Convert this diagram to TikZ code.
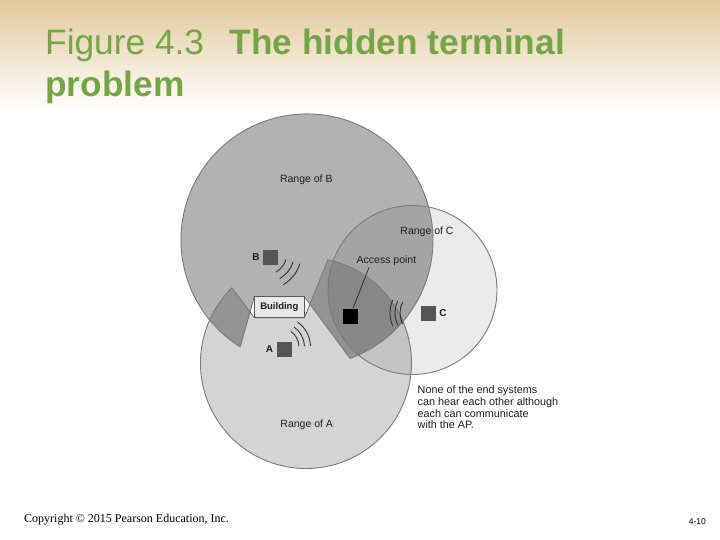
\documentclass[tikz,border=0pt]{standalone}
\usepackage{fontspec}
\setmainfont{Liberation Serif}
\newfontfamily\arialf{Liberation Sans}
\definecolor{headtan}{RGB}{226,201,155}
\definecolor{titlegreen}{RGB}{118,165,72}
\definecolor{rimgray}{RGB}{122,122,122}
\definecolor{devgray}{RGB}{85,85,85}
\definecolor{txtdark}{RGB}{30,30,30}
\definecolor{bldfill}{RGB}{232,232,232}
\begin{document}
\begin{tikzpicture}[x=1pt,y=-1pt,
  rim/.style={draw=rimgray, line width=0.9pt},
  devsq/.style={minimum size=15pt, inner sep=0pt, fill=devgray},
  devlbl/.style={font=\arialf\bfseries\fontsize{10}{12}\selectfont, text=txtdark, inner sep=0pt},
  rlbl/.style={font=\arialf\fontsize{10.5}{12}\selectfont, text=txtdark, inner sep=0pt},
  wave/.style={draw=black!80, line width=0.9pt},
]
\useasboundingbox (0,0) rectangle (720,540);
\fill[white] (0,0) rectangle (720,540);
\shade[top color=headtan, bottom color=white] (0,0) rectangle (720,110);

% title (base anchor = baseline of last line)
\node[anchor=base west, align=left, inner sep=0pt, text=titlegreen,
      font=\arialf\fontsize{35.3}{42}\selectfont] (title) at (45,97)
  {Figure 4.3\hspace{0.72em}\textbf{The hidden terminal}\\\textbf{problem}};

% ranges (fills)
\path[fill=black, fill opacity=0.08] (412.5,290) circle[radius=84.5];
\path[fill=black, fill opacity=0.17]
  (327.9,259.8) arc[start angle=-78, end angle=225.4, radius=105.5]
  -- (254.3,317.7) -- (304.5,317.7) -- cycle;
\path[fill=black, fill opacity=0.30]
  (240.2,346.8) arc[start angle=122, end angle=430, radius=126]
  -- (304.3,296.7) -- (254.3,296.7) -- cycle;

% range outlines
\path[rim] (412.5,290) circle[radius=84.5];
\path[rim]
  (327.9,259.8) arc[start angle=-78, end angle=225.4, radius=105.5]
  -- (254.3,317.7) -- (304.5,317.7) -- cycle;
\path[rim]
  (240.2,346.8) arc[start angle=122, end angle=430, radius=126]
  -- (304.3,296.7) -- (254.3,296.7) -- cycle;

% building
\node[draw=black!65, fill=bldfill, line width=0.8pt, minimum width=50pt, minimum height=21pt,
      inner sep=0pt, font=\arialf\bfseries\fontsize{9.5}{11}\selectfont, text=txtdark]
  (bldg) at (279.3,307.2) {Building};

% stations
\node[devsq] (B) at (270.5,257) {};
\node[devsq] (A) at (284.5,349) {};
\node[devsq] (C) at (428.3,313) {};
\node[devsq, fill=black] (AP) at (350,316) {};
\node[devlbl] (Blbl) at (256,257.5) {B};
\node[devlbl] (Albl) at (269.5,349.5) {A};
\node[devlbl] (Clbl) at (443,313.5) {C};

% signal waves
\draw[wave] (265,253) ++(17:22) arc[start angle=17, end angle=60, radius=22];
\draw[wave] (265,253) ++(17:29.5) arc[start angle=17, end angle=60, radius=29.5];
\draw[wave] (265,253) ++(17:36.5) arc[start angle=17, end angle=60, radius=36.5];
\draw[wave] (280,347) ++(-55:19) arc[start angle=-55, end angle=-2, radius=19];
\draw[wave] (280,347) ++(-55:24.5) arc[start angle=-55, end angle=-2, radius=24.5];
\draw[wave] (280,347) ++(-55:30.5) arc[start angle=-55, end angle=-2, radius=30.5];
\draw[wave] (422,313) ++(150:22) arc[start angle=150, end angle=210, radius=22];
\draw[wave] (422,313) ++(153:27) arc[start angle=153, end angle=207, radius=27];
\draw[wave] (422,313) ++(156:32) arc[start angle=156, end angle=204, radius=32];

% labels
\node[rlbl] (rB) at (306.3,180) {Range of B};
\node[rlbl] (rC) at (427,231.5) {Range of C};
\node[rlbl] (rA) at (306.7,424.4) {Range of A};
\node[rlbl] (aplbl) at (386.5,261) {Access point};
\coordinate (apstart) at (369,267.5);
\draw[black!85, line width=0.7pt] (apstart) -- (AP);

\node[anchor=base west, align=left, inner sep=0pt, text=txtdark,
      font=\arialf\fontsize{10.8}{11.7}\selectfont] (note) at (417.5,428.8)
  {None of the end systems\\can hear each other although\\each can communicate\\with the AP.};

% footer
\node[anchor=base west, inner sep=0pt, font=\fontsize{12}{14}\selectfont] (copy) at (24,522)
  {Copyright \textcopyright{} 2015 Pearson Education, Inc.};
\node[anchor=base east, inner sep=0pt, font=\arialf\fontsize{8.5}{10}\selectfont] (pg) at (706,524) {4-10};
\end{tikzpicture}
\end{document}
